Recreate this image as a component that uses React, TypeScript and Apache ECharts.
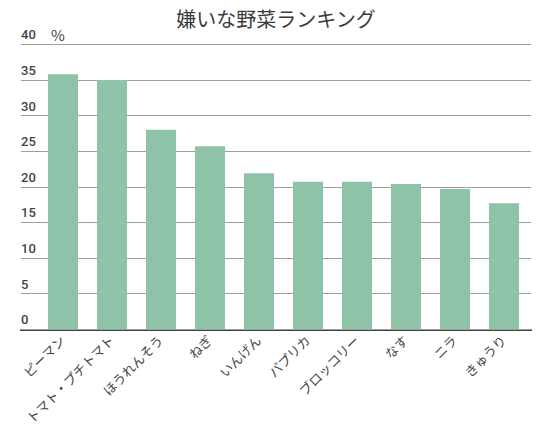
import { useEffect, useRef } from "react";
import * as echarts from "echarts";

const categories = [
  "ピーマン",
  "トマト・プチトマト",
  "ほうれんそう",
  "ねぎ",
  "いんげん",
  "パプリカ",
  "ブロッコリー",
  "なす",
  "ニラ",
  "きゅうり",
];
const percents = [35.8, 35.0, 28.0, 25.7, 21.9, 20.7, 20.7, 20.4, 19.7, 17.7];
const yMin = 0;
const yMax = 40;
const yStep = 5;

const FONT = "Roboto, 'Noto Sans CJK JP', sans-serif";
const TEXT = "#444";

export default function App() {
  const ref = useRef<HTMLDivElement>(null);

  useEffect(() => {
    if (!ref.current) return;
    const chart = echarts.init(ref.current, null, { renderer: "svg" });
    chart.setOption({
      animation: false,
      backgroundColor: "#fff",
      title: {
        text: "嫌いな野菜ランキング",
        left: "center",
        top: 8,
        padding: 0,
        textStyle: {
          fontFamily: "'Noto Sans CJK JP', sans-serif",
          fontSize: 20,
          fontWeight: "normal",
          color: "#3a3a3a",
        },
      },
      grid: [
        // bars
        {
          left: 38.5,
          right: 23.5,
          top: 44.3,
          bottom: 103.7,
          containLabel: false,
          outerBoundsMode: "none",
        },
        // gridlines, y labels and baseline span wider than the bars
        {
          left: 21,
          right: 21,
          top: 44.3,
          bottom: 103.7,
          containLabel: false,
          outerBoundsMode: "none",
        },
      ],
      xAxis: [
        {
          type: "category",
          gridIndex: 0,
          data: categories,
          axisLine: { show: false },
          axisTick: { show: false },
          axisLabel: {
            rotate: 45,
            margin: 9,
            interval: 0,
            fontSize: 13,
            color: TEXT,
            fontFamily: FONT,
          },
        },
        {
          type: "value",
          gridIndex: 1,
          min: 0,
          max: 1,
          axisLine: { show: true, lineStyle: { color: "#404040", width: 2 } },
          axisTick: { show: false },
          axisLabel: { show: false },
          splitLine: { show: false },
        },
      ],
      yAxis: [
        {
          type: "value",
          gridIndex: 0,
          min: yMin,
          max: yMax,
          interval: yStep,
          axisLine: { show: false },
          axisTick: { show: false },
          axisLabel: { show: false },
          splitLine: { show: false },
        },
        {
          type: "value",
          gridIndex: 1,
          min: yMin,
          max: yMax,
          interval: yStep,
          name: "%",
          nameLocation: "end",
          nameGap: 0,
          nameTextStyle: {
            align: "left",
            verticalAlign: "bottom",
            padding: [0, 0, 2, 30],
            fontSize: 15,
            color: TEXT,
            fontFamily: "'Noto Sans CJK JP', sans-serif",
          },
          axisLine: { show: false },
          axisTick: { show: false },
          axisLabel: {
            inside: true,
            margin: 0,
            verticalAlign: "bottom",
            padding: [0, 0, 3, 0],
            fontSize: 13,
            fontWeight: 500,
            color: TEXT,
            fontFamily: FONT,
          },
          splitLine: { show: true, lineStyle: { color: "#9e9e9e", width: 1 } },
          z: 1,
        },
      ],
      series: [
        {
          type: "bar",
          xAxisIndex: 0,
          yAxisIndex: 0,
          data: percents,
          barWidth: 30,
          itemStyle: { color: "#8ec3a7" },
          z: 3,
        },
      ],
    });
    return () => chart.dispose();
  }, []);

  return (
    <div
      ref={ref}
      style={{ position: "fixed", left: 0, top: 0, width: 552, height: 433 }}
    />
  );
}
